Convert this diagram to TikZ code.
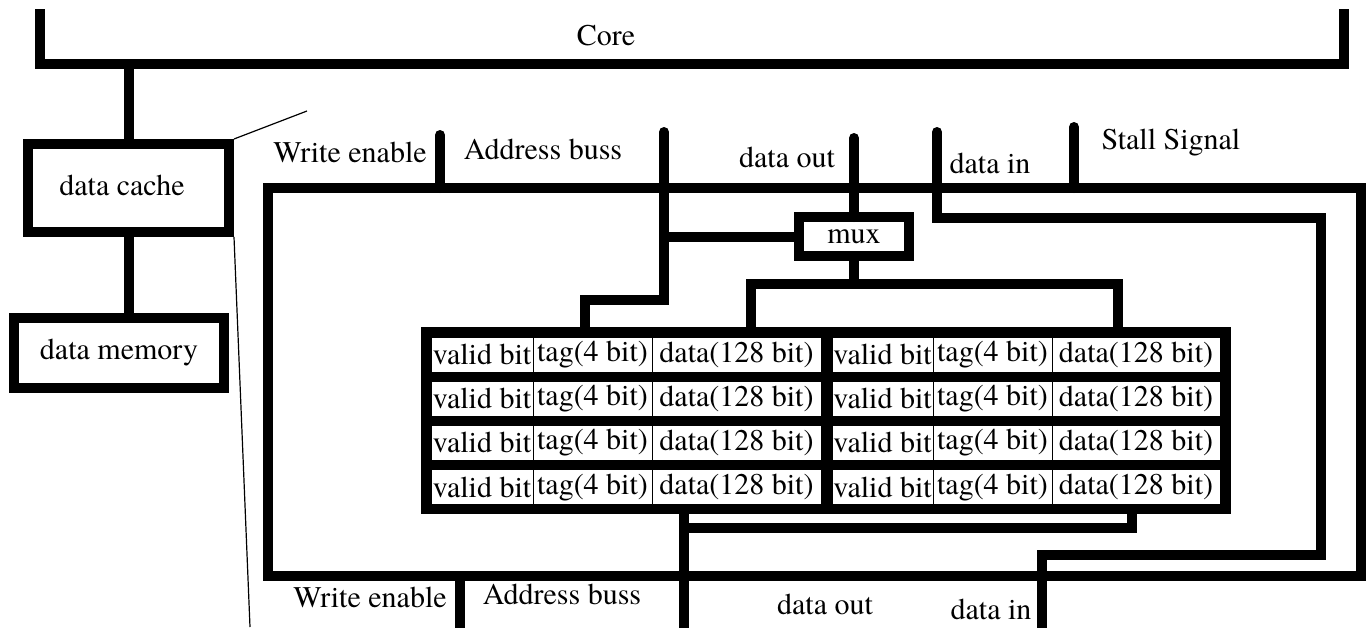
\documentclass[tikz,border=0pt]{standalone}
\usepackage{fontspec}
\IfFontExistsTF{texgyretermes-regular.otf}
  {\setmainfont{texgyretermes-regular.otf}}
  {\setmainfont{Liberation Serif}}
\usetikzlibrary{positioning}

\tikzset{
  bus/.style={line width=10pt},
  sig/.style={line width=10pt, line cap=round},
  blk/.style={draw, line width=10pt, inner sep=0pt, outer sep=0pt},
  cell/.style={draw, line width=0.8pt, fill=white, inner sep=0pt, minimum height=35pt},
  guide/.style={line width=1.2pt},
}

\begin{document}
\begin{tikzpicture}[x=1pt,y=-1pt,font=\fontsize{30}{32}\selectfont]
\useasboundingbox (0,0) rectangle (1366,627);
\coordinate (bottomEdge) at (0,640);

% core
\coordinate (coreL) at (40,9);
\coordinate (coreBar) at (40,64);
\coordinate (coreR) at (1344,9);
\draw[bus] (coreL) -- (coreBar) -- (1344,64) -- (coreR);
\node (core) at (606,36) {Core};

% hierarchy on the left
\node[blk, minimum width=201pt, minimum height=88pt] (cache) at (128.5,188) {};
\node (cacheLbl) at (122,185) {data cache};
\node[blk, minimum width=210pt, minimum height=70pt] (mem) at (119,353) {data memory};
\draw[bus] (cache.north) -- (cache.north |- coreBar);
\draw[bus] (cache.south) -- (cache.south |- mem.north);
\draw[guide] ([shift={(5,-5)}]cache.north east) -- (307,111);
\draw[guide] ([shift={(5,5)}]cache.south east) -- (250,627);

% zoomed cache
\node[blk, minimum width=1093pt, minimum height=388pt] (detail) at (814.5,382) {};
\node[blk, minimum width=110pt, minimum height=39pt] (mux) at (854,236.5) {mux};
\node[fill=black, inner sep=0pt, minimum width=810pt, minimum height=187pt] (ways) at (826,420.5) {};
\foreach \r in {0,...,3}{
  \foreach \cx/\cw/\ct [count=\c] in {482/102/{valid bit}, 592.5/119/{tag(4 bit)}, 736.5/169/{data(128 bit)},
      882.5/101/{valid bit}, 992.5/119/{tag(4 bit)}, 1136/168/{data(128 bit)}}
    \node[cell, minimum width=\cw pt] (cell\r\c) at (\cx,354.5+44.2*\r) {\ct};
}

% inputs on top
\coordinate (weIn) at (440,135);
\coordinate (addrIn) at (664,132);
\coordinate (addrTap) at (664,236.5);
\coordinate (addrBend) at (585,300);
\coordinate (doutIn) at (854,138);
\coordinate (dinIn) at (937,132);
\coordinate (dinR) at (1321,218);
\coordinate (dinB) at (1042,555);
\coordinate (stallOut) at (1074,127);
\draw[sig] (weIn) -- (weIn |- detail.north);
\draw[sig] (addrIn) |- (addrBend) -- (addrBend |- ways.north);
\draw[bus] (addrTap) -- (mux.west);
\draw[sig] (doutIn) -- (mux.north);
\draw[sig] (dinIn) |- (dinR) |- (dinB) -- (dinB |- bottomEdge);
\draw[sig] (stallOut) -- (stallOut |- detail.north);

% mux select lines
\coordinate (selL) at (751,284);
\coordinate (selR) at (1118,284);
\draw[bus] (mux.south) -- (mux.south |- selL);
\draw[bus] (selL |- ways.north) -- (selL) -- (selR) -- (selR |- ways.north);

% outputs below
\coordinate (rdOut) at (684,528);
\coordinate (rdR) at (1132,528);
\coordinate (weOut) at (460,640);
\draw[bus] (rdOut |- ways.south) -- (rdOut |- bottomEdge);
\draw[bus] (rdR |- ways.south) -- (rdR) -- (rdOut);
\draw[bus] (weOut |- detail.south) -- (weOut);

% labels
\node (weInLbl) at (350,152) {Write enable};
\node (addrInLbl) at (543,149) {Address buss};
\node (doutInLbl) at (787,157) {data out};
\node (dinInLbl) at (990,163) {data in};
\node (stallLbl) at (1171,143) {Stall Signal};
\node (weOutLbl) at (370,597) {Write enable};
\node (addrOutLbl) at (562,594) {Address buss};
\node (doutOutLbl) at (825,604) {data out};
\node (dinOutLbl) at (991,609) {data in};
\end{tikzpicture}
\end{document}
